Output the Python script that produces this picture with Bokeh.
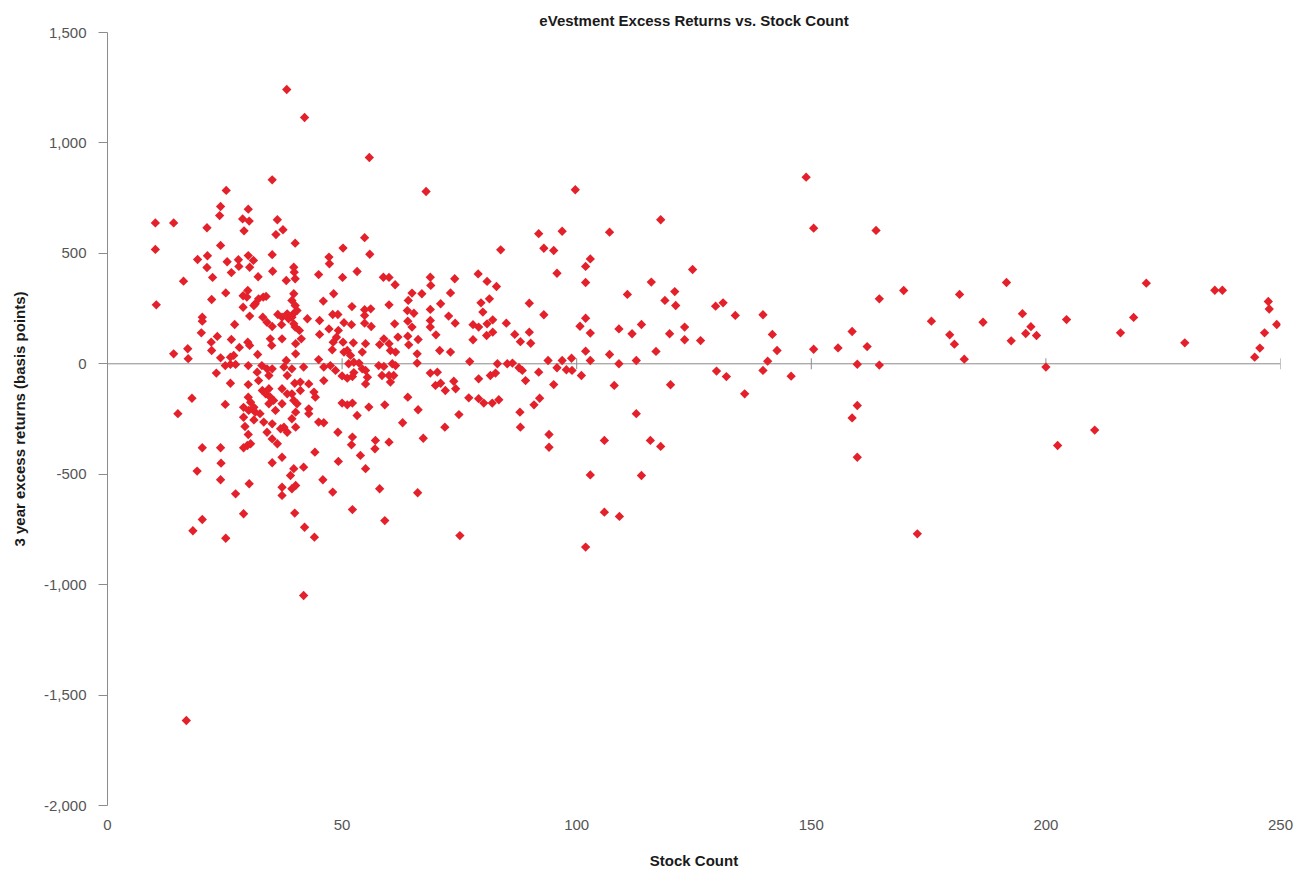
import numpy as np
from bokeh.plotting import figure
from bokeh.models import Range1d, FixedTicker, NumeralTickFormatter, Span
from bokeh.embed import file_html
from bokeh.resources import INLINE

# ---- data (stock count, 3y excess return in bp) ----
x_a = [35.1,25.3,10.2,14.1,24.1,23.9,30.0,28.8,30.2,21.2,
       29.1,36.2,37.4,35.9,40.0,10.2,24.1,19.2,21.3,21.2,
       25.5,27.9,28.0,30.0,31.1,30.3,35.1,26.4,35.2,39.7,
       39.8,40.0,38.1,22.4,32.1,16.2,25.2,22.2,28.9,29.9,
       29.7,31.5,32.2,33.2,33.8,28.9,31.2,39.7,39.3,40.0,
       40.4,39.6,38.6,10.4,30.3,33.1,34.0,35.1,36.3,37.2,
       37.1,38.3,39.3,39.7,40.0,40.9,41.3,42.6,20.2,20.2,
       27.1,20.0,23.4,22.1,22.2,26.4,29.9,30.3,34.7,35.0,
       37.2,40.1,40.1,28.1,14.1,17.1,17.2,24.1,26.2,26.9,
       32.0,38.1]
y_a = [833,785,638,638,712,671,700,656,646,616,
       602,652,607,585,546,518,536,472,489,436,
       462,471,441,490,468,437,494,413,419,437,
       415,385,377,391,394,374,321,291,308,332,
       302,272,294,302,305,256,264,317,287,264,
       241,226,204,267,216,211,188,169,223,211,
       177,226,211,181,166,151,113,204,211,193,
       178,140,124,98,60,110,98,83,113,83,
       113,91,45,74,45,68,23,27,30,38,
       42,15]

x_b = [67.9,54.8,50.2,55.9,47.2,47.3,45.0,50.1,53.2,58.8,
       60.0,61.3,68.8,68.9,74.0,48.2,46.0,64.9,67.0,64.1,
       73.1,71.0,52.1,60.0,45.2,48.0,49.1,50.4,52.0,54.8,
       56.1,54.8,54.8,56.2,63.9,65.3,64.0,64.9,68.8,68.8,
       68.8,72.7,74.1,61.2,70.0,45.2,47.2,49.2,48.8,48.1,
       47.9,50.2,52.4,55.0,54.3,51.1,51.8,50.4,58.0,58.9,
       60.0,60.3,61.4,61.9,64.0,64.2,66.2,66.0,70.8,73.1,
       45.0]
y_b = [780,571,524,496,483,453,404,391,418,392,
       391,358,392,355,385,317,284,320,317,287,
       321,272,259,267,196,223,223,186,177,245,
       249,219,184,169,241,229,193,166,246,196,
       166,216,184,181,131,133,158,151,120,98,
       63,98,95,91,53,60,38,53,87,113,
       91,60,53,121,125,86,110,45,60,53,
       19]

x_c = [23.2,26.2,30.0,25.1,26.2,27.3,30.0,31.9,32.2,32.9,
       34.0,34.4,35.1,37.6,38.3,39.3,39.9,41.1,41.8,42.9,
       18.0,15.0,25.1,30.0,30.5,29.0,30.1,31.2,31.5,32.5,
       29.0,31.2,29.3,30.0,33.0,33.7,34.4,34.7,35.4,35.8,
       34.4,33.3,37.2,38.3,39.3,37.2,39.7,40.4,40.1,39.3,
       40.1,38.3,36.9,37.6,34.0,35.1,35.1,36.2,41.1,42.9,
       42.9,29.0,29.8,30.5,20.2,24.1,24.2,19.1,24.1,27.3,
       30.2,35.1,37.2,39.7,39.0,41.8,37.2,37.2,39.3,40.1,
       29.0,20.2,18.2,25.2,39.9,42.0]
y_c = [-42,-88,-94,-8,-3,-3,-8,-38,-76,-8,
       -23,-53,-23,-15,-53,-23,-88,-121,-15,-91,
       -156,-226,-184,-151,-174,-197,-211,-197,-219,-226,
       -242,-254,-284,-320,-121,-136,-113,-151,-166,-211,
       -181,-264,-113,-136,-136,-181,-166,-181,-219,-249,
       -287,-310,-294,-287,-310,-272,-340,-362,-83,-204,
       -226,-380,-370,-362,-380,-380,-450,-486,-525,-589,
       -543,-448,-423,-475,-506,-468,-559,-596,-566,-551,
       -679,-705,-756,-790,-676,-740]

x_d = [46.1,47.5,48.6,51.4,52.5,53.6,52.5,50.0,51.1,52.2,
       54.3,55.0,55.4,55.0,57.8,58.9,58.5,60.0,61.0,60.3,
       61.4,60.7,66.0,68.8,70.3,71.0,69.9,72.0,73.8,74.2,
       46.1,44.0,44.3,45.0,46.1,50.0,51.1,52.2,53.2,55.7,
       59.1,64.0,66.2,74.9,62.9,71.9,49.1,52.2,52.0,57.1,
       57.0,60.0,67.3,44.2,53.9,55.0,49.2,45.9,48.0,58.0,
       66.1,52.2,59.1,44.1,75.1]
y_d = [-15,-8,-30,0,7,3,-40,-55,-65,-58,
       -23,-30,-61,-91,-8,-12,-53,-53,-53,-83,
       -8,0,3,-42,-38,-88,-98,-121,-79,-113,
       -76,-128,-151,-264,-267,-178,-186,-178,-234,-196,
       -186,-151,-208,-230,-267,-287,-310,-332,-367,-347,
       -385,-355,-337,-400,-415,-475,-442,-525,-581,-566,
       -584,-660,-710,-785,-778]

x_e = [99.7,117.9,91.9,96.9,107.0,83.8,93.0,95.1,95.8,102.9,
       101.9,101.9,79.0,80.9,82.9,124.7,115.9,110.8,120.9,118.8,
       121.1,79.6,81.4,80.0,89.9,93.0,77.9,79.1,80.9,82.1,
       80.8,82.1,77.9,85.0,86.8,88.0,89.9,90.2,101.9,100.7,
       102.9,109.0,111.8,113.8,119.8,123.0,123.0,101.9,107.0,116.9,
       77.2,83.1,85.2,86.3,93.9,96.9,98.9,102.9,109.0,112.7,
       126.4]
y_e = [788,652,589,600,596,516,523,513,410,475,
       441,368,407,373,350,427,370,314,327,287,
       264,276,294,234,274,222,177,166,181,199,
       128,143,109,184,133,100,143,93,206,170,
       139,158,136,178,136,166,109,57,42,56,
       10,0,0,3,15,15,25,15,0,15,
       105]

x_f = [79.1,81.6,82.7,87.7,88.4,89.1,91.9,95.8,97.8,99.0,
       101.0,95.1,108.0,120.0,77.0,79.1,80.2,82.0,83.4,87.9,
       88.0,90.9,92.1,94.1,94.1,112.7,105.9,115.7,117.9,102.9,
       113.8,105.9,109.1,101.9]
y_f = [-68,-53,-42,-18,-30,-76,-38,-18,-27,-30,
       -53,-94,-98,-95,-154,-158,-178,-178,-163,-219,
       -287,-186,-156,-320,-378,-226,-347,-347,-374,-503,
       -506,-672,-691,-830]

x_g = [148.9,150.5,163.8,129.6,131.2,133.8,139.7,141.7,142.7,140.7,
       129.8,131.9,135.8,139.7,145.7,150.5,155.7,158.7,161.9,159.8,
       164.5,164.5,169.7,159.8,158.7,159.8,172.6,175.6,181.6,179.5,
       180.5,182.6,186.6]
y_g = [845,614,604,261,276,219,222,133,60,12,
       -33,-58,-136,-30,-56,66,72,146,78,-2,
       -6,294,332,-189,-245,-423,-770,193,314,131,
       89,21,188]

x_h = [191.6,192.6,195.0,196.8,195.7,198.0,200.0,202.5,204.4,210.4,
       215.9,218.7,221.4,229.6,236.0,237.6,244.5,245.6,246.6,247.4,
       247.6,249.2]
y_h = [368,104,227,168,137,128,-15,-370,200,-300,
       140,210,365,95,333,333,30,71,140,282,
       248,178]

x_out = [38.2,42.0,55.8,41.8,16.8]
y_out = [1242,1115,934,-1049,-1615]

x_ticks = [0, 50, 100, 150, 200, 250]
y_ticks = [-2000, -1500, -1000, -500, 0, 500, 1000, 1500]

stock_count = x_a + x_b + x_c + x_d + x_e + x_f + x_g + x_h + x_out
excess_bp = y_a + y_b + y_c + y_d + y_e + y_f + y_g + y_h + y_out

AXIS_GREY = "#8c8c8c"
LABEL_FONT = "Liberation Sans"

p = figure(width=1295, height=874,
           x_range=Range1d(x_ticks[0], x_ticks[-1]),
           y_range=Range1d(y_ticks[0], y_ticks[-1]),
           output_backend="svg", toolbar_location=None,
           min_border_left=107, min_border_right=15,
           min_border_top=32, min_border_bottom=69,
           title="eVestment Excess Returns vs. Stock Count")
p.outline_line_color = None
p.xgrid.visible = False
p.ygrid.visible = False
p.background_fill_color = "white"
p.border_fill_color = "white"

p.title.align = "center"
p.title.text_font = LABEL_FONT
p.title.text_font_size = "15px"
p.title.text_font_style = "bold"
p.title.text_color = "#1a1a1a"
p.title.standoff = 8

# bottom x axis: labels only
xa = p.xaxis[0]
xa.ticker = FixedTicker(ticks=x_ticks)
xa.axis_line_color = None
xa.major_tick_line_color = None
xa.minor_tick_line_color = None
xa.major_tick_out = 0
xa.major_tick_in = 0
xa.major_label_standoff = 14
xa.major_label_text_font = LABEL_FONT
xa.major_label_text_font_size = "15px"
xa.major_label_text_color = "#555555"
xa.axis_label = "Stock Count"
xa.axis_label_text_font = LABEL_FONT
xa.axis_label_text_font_size = "15px"
xa.axis_label_text_font_style = "bold"
xa.axis_label_text_color = "#1a1a1a"
xa.axis_label_standoff = 19

ya = p.yaxis[0]
ya.ticker = FixedTicker(ticks=y_ticks)
ya.formatter = NumeralTickFormatter(format="0,0")
ya.axis_line_color = AXIS_GREY
ya.axis_line_width = 1
ya.major_tick_line_color = AXIS_GREY
ya.major_tick_out = 9
ya.major_tick_in = 0
ya.minor_tick_line_color = None
ya.major_label_standoff = 12
ya.major_label_text_font = LABEL_FONT
ya.major_label_text_font_size = "15px"
ya.major_label_text_color = "#555555"
ya.axis_label = "3 year excess returns (basis points)"
ya.axis_label_text_font = LABEL_FONT
ya.axis_label_text_font_size = "15px"
ya.axis_label_text_font_style = "bold"
ya.axis_label_text_color = "#1a1a1a"
ya.axis_label_standoff = 13

# zero line acting as the x axis line, with crossing ticks
zero = Span(location=0, dimension="width", line_color=AXIS_GREY,
            line_width=1, level="underlay")
p.add_layout(zero)
p.scatter(x=x_ticks[1:], y=[0] * (len(x_ticks) - 1), marker="dash",
          angle=np.pi / 2, size=11, line_color=AXIS_GREY, line_width=1)

p.scatter(x=stock_count, y=excess_bp, marker="square", angle=np.pi / 4,
          size=6.6, fill_color="#E4202A", line_color=None)

open("out.html", "w").write(file_html(p, INLINE))
